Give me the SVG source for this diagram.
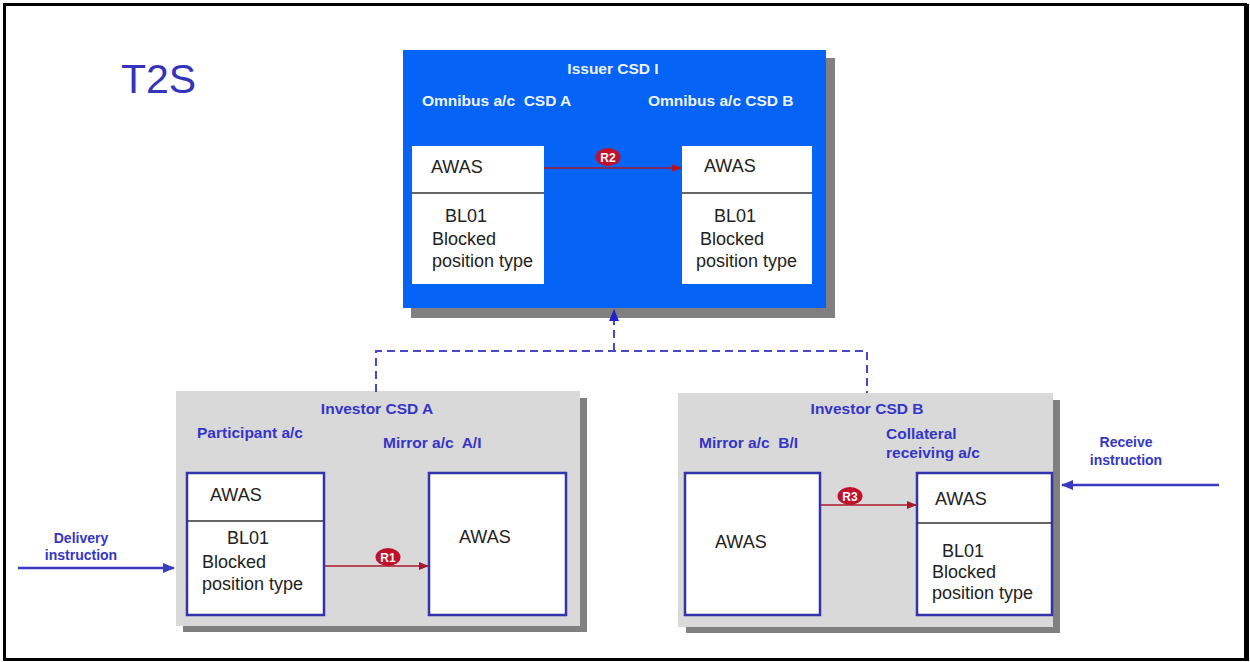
<svg xmlns="http://www.w3.org/2000/svg" width="1250" height="662" viewBox="0 0 1250 662">
<defs>
<marker id="redArrow" markerWidth="10" markerHeight="10" refX="9" refY="5" orient="auto" markerUnits="userSpaceOnUse">
<path d="M0,1 L10,5 L0,9 Z" fill="#A8182C"/>
</marker>
<marker id="blueArrow" markerWidth="12" markerHeight="12" refX="11" refY="6" orient="auto" markerUnits="userSpaceOnUse">
<path d="M0,1 L12,6 L0,11 Z" fill="#3A3AC0"/>
</marker>
<marker id="dashArrow" markerWidth="12" markerHeight="12" refX="11" refY="6" orient="auto" markerUnits="userSpaceOnUse">
<path d="M0,1 L12,6 L0,11 Z" fill="#2222CC"/>
</marker>
<style>
.frame{fill:#fff;stroke:#000;stroke-width:3}
.shadow{fill:#808080}
.issuer{fill:#0563F5}
.investor{fill:#D9D9D9}
.wbox{fill:#fff}
.wboxA{fill:#fff;stroke:#3333AA;stroke-width:2.5}
.div{stroke:#333;stroke-width:1.5}
.t{font-family:"Liberation Sans",Arial,sans-serif}
.box{font-size:18px;fill:#222}
.wt{font-size:15.5px;font-weight:bold;fill:#EEF4FF}
.bt{font-size:15.5px;font-weight:bold;fill:#3535C8}
.st{font-size:14px;font-weight:bold;fill:#3535C8}
.rl{font-size:12px;font-weight:bold;fill:#fff}
.red{stroke:#A8182C;stroke-width:1.6;fill:none}
.bl{stroke:#3A3AC0;stroke-width:2.5;fill:none}
.dash{stroke:#4848C8;stroke-width:2;stroke-dasharray:8,5;fill:none}
.badge{fill:#C0102A}
</style>
</defs>
<rect class="frame" x="4.5" y="4.5" width="1241" height="655"/>
<line x1="1247" y1="4" x2="1247" y2="661" stroke="#000" stroke-width="4"/>
<text class="t" x="121" y="93" font-size="41" fill="#3333BB">T2S</text>

<g id="issuer-csd-i">
<rect class="shadow" x="411" y="58" width="424" height="260"/>
<rect class="issuer" x="403" y="50" width="423" height="258"/>
<text class="t wt" x="613" y="74" text-anchor="middle">Issuer CSD I</text>
<text class="t wt" x="422" y="106" xml:space="preserve">Omnibus a/c  CSD A</text>
<text class="t wt" x="648" y="106">Omnibus a/c CSD B</text>
</g>

<g id="omnibus-csd-a">
<rect class="wbox" x="412" y="146" width="132" height="138"/>
<line class="div" x1="412" y1="193" x2="544" y2="193"/>
<text class="t box" x="431" y="173">AWAS</text>
<text class="t box" x="445" y="222">BL01</text>
<text class="t box" x="432" y="245">Blocked</text>
<text class="t box" x="432" y="267">position type</text>
</g>

<g id="omnibus-csd-b">
<rect class="wbox" x="682" y="146" width="130" height="138"/>
<line class="div" x1="682" y1="193" x2="812" y2="193"/>
<text class="t box" x="704" y="172">AWAS</text>
<text class="t box" x="714" y="222">BL01</text>
<text class="t box" x="700" y="245">Blocked</text>
<text class="t box" x="696" y="267">position type</text>
</g>

<g id="investor-csd-a">
<rect class="shadow" x="183" y="398" width="404" height="234"/>
<rect class="investor" x="176" y="391" width="404" height="235"/>
<text class="t bt" x="377" y="414" text-anchor="middle">Investor CSD A</text>
<text class="t bt" x="197" y="438">Participant a/c</text>
<text class="t bt" x="383" y="448" xml:space="preserve">Mirror a/c  A/I</text>
</g>

<g id="participant-ac">
<rect class="wboxA" x="187" y="473" width="137" height="142"/>
<line class="div" x1="187" y1="521" x2="324" y2="521"/>
<text class="t box" x="210" y="501">AWAS</text>
<text class="t box" x="227" y="544">BL01</text>
<text class="t box" x="202" y="568">Blocked</text>
<text class="t box" x="202" y="590">position type</text>
</g>

<g id="mirror-ac-a">
<rect class="wboxA" x="429" y="473" width="137" height="142"/>
<text class="t box" x="459" y="543">AWAS</text>
</g>

<g id="investor-csd-b">
<rect class="shadow" x="686" y="400" width="374" height="233"/>
<rect class="investor" x="678" y="393" width="375" height="234"/>
<text class="t bt" x="867" y="414" text-anchor="middle">Investor CSD B</text>
<text class="t bt" x="699" y="448" xml:space="preserve">Mirror a/c  B/I</text>
<text class="t bt" x="886" y="439">Collateral</text>
<text class="t bt" x="886" y="458">receiving a/c</text>
</g>

<g id="mirror-ac-b">
<rect class="wboxA" x="685" y="473" width="135" height="142"/>
<text class="t box" x="715" y="548">AWAS</text>
</g>

<g id="collateral-receiving-ac">
<rect class="wboxA" x="917" y="473" width="135" height="142"/>
<line class="div" x1="917" y1="523" x2="1052" y2="523"/>
<text class="t box" x="935" y="505">AWAS</text>
<text class="t box" x="942" y="557">BL01</text>
<text class="t box" x="932" y="578">Blocked</text>
<text class="t box" x="932" y="599">position type</text>
</g>

<g id="connectors">
<line class="red" x1="544" y1="168" x2="681" y2="168" marker-end="url(#redArrow)"/>
<ellipse class="badge" cx="608" cy="157" rx="12.5" ry="9"/>
<text class="t rl" x="608" y="161.5" text-anchor="middle">R2</text>

<line class="red" x1="325" y1="566" x2="428" y2="566" marker-end="url(#redArrow)"/>
<ellipse class="badge" cx="388" cy="557" rx="12.5" ry="9"/>
<text class="t rl" x="388" y="561.5" text-anchor="middle">R1</text>

<line class="red" x1="821" y1="505" x2="916" y2="505" marker-end="url(#redArrow)"/>
<ellipse class="badge" cx="850" cy="496" rx="12.5" ry="9"/>
<text class="t rl" x="850" y="500.5" text-anchor="middle">R3</text>

<polyline class="dash" points="376,392 376,351 867,351 867,393"/>
<line class="dash" x1="614" y1="351" x2="614" y2="310" marker-end="url(#dashArrow)"/>

<line class="bl" x1="18" y1="568" x2="174" y2="568" marker-end="url(#blueArrow)"/>
<text class="t st" x="81" y="543" text-anchor="middle">Delivery</text>
<text class="t st" x="81" y="560" text-anchor="middle">instruction</text>

<line class="bl" x1="1219" y1="485" x2="1062" y2="485" marker-end="url(#blueArrow)"/>
<text class="t st" x="1126" y="447" text-anchor="middle">Receive</text>
<text class="t st" x="1126" y="465" text-anchor="middle">instruction</text>
</g>
</svg>
